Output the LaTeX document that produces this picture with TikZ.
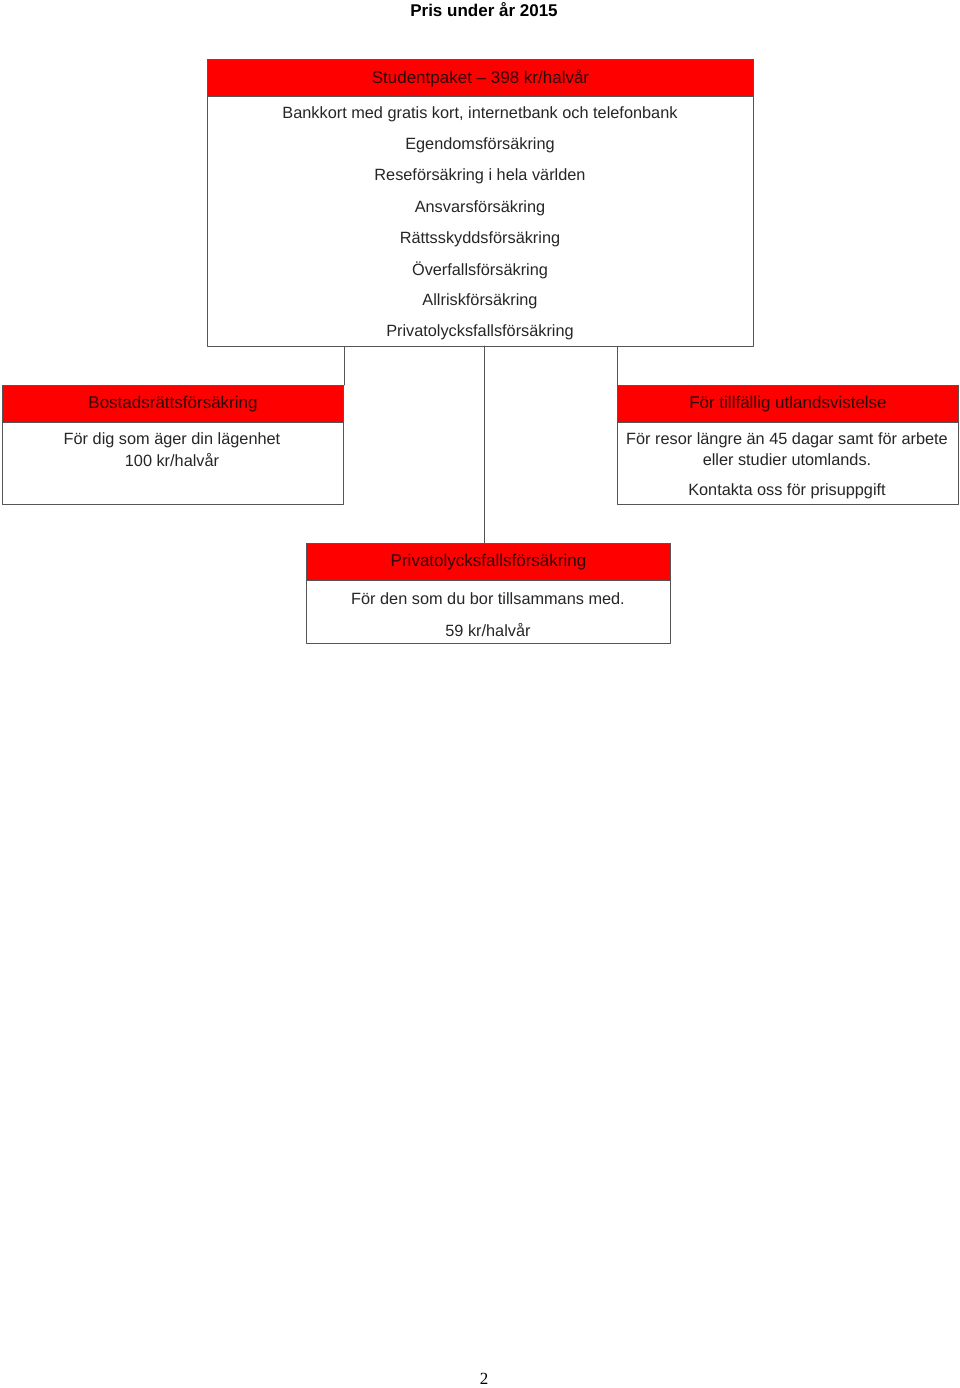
\documentclass[tikz,border=0pt]{standalone}
\usepackage{fontspec}
\setmainfont{Liberation Sans}
\newfontfamily\sidfont{Liberation Serif}
\usetikzlibrary{positioning}
\definecolor{prisrod}{RGB}{255,0,0}
\definecolor{kant}{RGB}{85,85,85}
\definecolor{rubriktext}{RGB}{45,8,8}
\tikzset{
  kort/.style={draw=kant,line width=1pt,fill=white,inner sep=0pt,anchor=north west},
  rubrik/.style={draw=kant,fill=prisrod,line width=1pt,minimum height=37pt,inner sep=0pt,anchor=north west,
    font=\fontsize{17}{20}\selectfont,text=rubriktext},
  rad/.style={font=\fontsize{16.3}{19}\selectfont,text=black!85,inner sep=0pt,yshift=-2pt},
  lank/.style={draw=kant,line width=1pt}
}
\begin{document}
\begin{tikzpicture}[x=1pt,y=-1pt,line cap=round,line join=round]
  \useasboundingbox (0,0) rectangle (960,1388);
  \node[font=\bfseries\fontsize{17}{20}\selectfont] (titel) at (484,10) {Pris under år 2015};
  % studentpaketet
  \node[kort,minimum width=546pt,minimum height=287pt] (paket) at (207,59) {};
  \node[rubrik,minimum width=546pt] (paketkop) at (paket.north west) {Studentpaket -- 398 kr/halvår};
  \foreach \y/\t [count=\i] in {112/{Bankkort med gratis kort, internetbank och telefonbank},
      143/Egendomsförsäkring,174/Reseförsäkring i hela världen,206/Ansvarsförsäkring,
      237/Rättsskyddsförsäkring,268/Överfallsförsäkring,299/Allriskförsäkring,
      330/Privatolycksfallsförsäkring}
    \node[rad] (paketrad\i) at (480,\y) {\t};
  % tillval
  \node[kort,minimum width=341pt,minimum height=119pt] (bostad) at (2,385) {};
  \node[rubrik,minimum width=341pt] (bostadkop) at (bostad.north west) {Bostadsrättsförsäkring};
  \node[rad] (bostadrad1) at (172,438) {För dig som äger din lägenhet};
  \node[rad] (bostadrad2) at (172,458) {100 kr/halvår};
  \node[kort,minimum width=341pt,minimum height=119pt] (utland) at (617,385) {};
  \node[rubrik,minimum width=341pt] (utlandkop) at (utland.north west) {För tillfällig utlandsvistelse};
  \node[rad] (utlandrad1) at (787,438) {För resor längre än 45 dagar samt för arbete};
  \node[rad] (utlandrad2) at (787,458) {eller studier utomlands.};
  \node[rad] (utlandrad3) at (787,489) {Kontakta oss för prisuppgift};
  \node[kort,minimum width=364pt,minimum height=100pt] (olycka) at (306,543) {};
  \node[rubrik,minimum width=364pt] (olyckakop) at (olycka.north west) {Privatolycksfallsförsäkring};
  \node[rad] (olyckarad1) at (488,597) {För den som du bor tillsammans med.};
  \node[rad] (olyckarad2) at (488,628) {59 kr/halvår};
  % linjer
  \coordinate (mitt) at (484,346);
  \draw[lank] (bostad.north east) -- (bostad.north east |- paket.south);
  \draw[lank] (utland.north west) -- (utland.north west |- paket.south);
  \draw[lank] (mitt) -- (mitt |- olycka.north);
  \node[font=\sidfont\fontsize{17}{20}\selectfont] (sida) at (484,1379) {2};
\end{tikzpicture}
\end{document}
